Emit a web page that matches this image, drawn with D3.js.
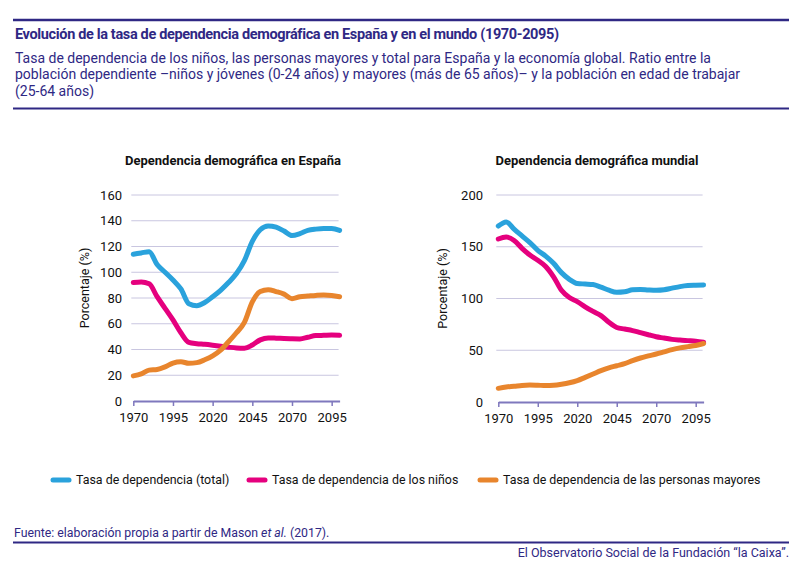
<!DOCTYPE html>
<html>
<head>
<meta charset="utf-8">
<script src="https://cdn.jsdelivr.net/npm/d3@7"></script>
<style>
  body { margin: 0; background: #fff; }
  svg { font-family: Roboto, "Liberation Sans", sans-serif; }
</style>
</head>
<body>
<script>
// Datos (cada 5 años, 1970-2100)
const years = d3.range(1970, 2101, 5);

const espanaTotal = [114, 115, 116, 106, 100, 94, 87, 75.5, 74, 76.5, 81, 86, 92, 99, 109, 124, 133, 136, 135, 132, 128.5, 130, 132.5, 133.5, 134, 134, 132.5];
const espanaNinos = [92, 92.5, 91, 81, 72, 63, 53, 45.5, 44.5, 44, 43.3, 42.5, 41.8, 41.2, 41, 43.5, 47.5, 49, 48.8, 48.5, 48.3, 48.2, 49.5, 50.8, 51, 51.2, 51];
const espanaMayores = [19.5, 21, 24, 24.5, 26.5, 29.5, 30.5, 29.3, 29.8, 32, 35, 39.5, 46, 53, 61, 77, 85, 86.5, 85, 83, 79.5, 81, 81.5, 82, 82.3, 82, 81];

const mundoTotal = [170, 174, 167, 160.5, 154, 146.5, 141, 134, 125, 118.5, 114.5, 114, 113.5, 111, 108, 106, 106.5, 108.5, 108.8, 108.3, 108, 108.5, 110, 111.5, 112.5, 112.8, 113];
const mundoNinos = [157.5, 159.5, 156, 148.5, 142, 137, 131, 121, 108, 101, 97, 92, 87.5, 83.5, 77, 72, 70.5, 69, 67, 65, 63, 61.8, 60.5, 59.8, 59.3, 58.8, 57.8];
const mundoMayores = [13.2, 14.5, 15.2, 16, 16.4, 16.2, 15.9, 16.2, 17.2, 18.6, 20.7, 23.8, 27, 30.3, 33, 35, 37, 40, 42.5, 44.5, 46.4, 48.5, 50.6, 52.3, 53.5, 54.6, 56.5];

const xTicks = [1970, 1995, 2020, 2045, 2070, 2095];
const espanaTicks = [0, 20, 40, 60, 80, 100, 120, 140, 160];
const mundoTicks = [0, 50, 100, 150, 200];

const seriesNames = ['Tasa de dependencia (total)', 'Tasa de dependencia de los niños', 'Tasa de dependencia de las personas mayores'];
const colors = ['#2aa2dc', '#e5007e', '#e8852d'];

const WIDTH = 800, HEIGHT = 567;
const ink = '#2f2884';

const svg = d3.select('body')
    .append('svg')
        .attr('width', WIDTH)
        .attr('height', HEIGHT);

// Cabecera
svg.append('line')
    .attr('x1', 13).attr('x2', 789).attr('y1', 20).attr('y2', 20)
    .attr('stroke', ink).attr('stroke-width', 2.5);

svg.append('text')
    .attr('x', 15).attr('y', 39)
    .attr('fill', ink)
    .style('font-size', '14.5px')
    .style('font-weight', 'bold')
    .style('letter-spacing', '-0.35px')
    .text('Evolución de la tasa de dependencia demográfica en España y en el mundo (1970-2095)');

const subtitle = [
    'Tasa de dependencia de los niños, las personas mayores y total para España y la economía global. Ratio entre la',
    'población dependiente –niños y jóvenes (0-24 años) y mayores (más de 65 años)– y la población en edad de trabajar',
    '(25-64 años)'
];

svg.append('g')
    .selectAll('text')
    .data(subtitle)
    .enter().append('text')
        .attr('x', 15)
        .attr('y', (d, i) => 63 + i * 16.3)
        .attr('fill', ink)
        .style('font-size', '14px')
        .text(d => d);

svg.append('line')
    .attr('x1', 13).attr('x2', 789).attr('y1', 108.5).attr('y2', 108.5)
    .attr('stroke', ink).attr('stroke-width', 2);

// Función que dibuja un panel
function drawPanel(opts) {
    const x = d3.scaleLinear().domain([1970, 2100]).range(opts.xRange);
    const y = d3.scaleLinear().domain([0, opts.yMax]).range(opts.yRange);

    const g = svg.append('g');

    g.append('text')
        .attr('x', opts.titleX).attr('y', 165)
        .attr('text-anchor', 'middle')
        .attr('fill', '#111')
        .style('font-size', '13px')
        .style('font-weight', 'bold')
        .text(opts.title);

    // Líneas de la grilla
    g.selectAll('.grid')
        .data(opts.ticks.filter(d => d > 0))
        .enter().append('line')
            .attr('class', 'grid')
            .attr('x1', opts.xRange[0] - 2)
            .attr('x2', opts.xRange[1] - 1)
            .attr('y1', d => y(d))
            .attr('y2', d => y(d))
            .attr('stroke', '#c9c6e0')
            .attr('stroke-width', 1);

    // Eje Y (solo etiquetas)
    const yAxis = g.append('g')
        .attr('transform', `translate(${opts.yLabelX},0)`)
        .call(d3.axisLeft(y).tickValues(opts.ticks).tickSize(0).tickPadding(0));
    yAxis.select('.domain').remove();
    yAxis.selectAll('text')
        .attr('fill', '#111')
        .style('font-size', '13px')
        .style('font-family', 'Roboto, "Liberation Sans", sans-serif');

    // Eje X
    const xAxis = g.append('g')
        .attr('transform', `translate(0,${opts.yRange[0]})`)
        .call(d3.axisBottom(x).tickValues(xTicks).tickFormat(d3.format('d')).tickSize(5).tickPadding(7).tickSizeOuter(0));
    xAxis.select('.domain')
        .attr('stroke', '#7f78bd')
        .attr('stroke-width', 2);
    xAxis.selectAll('.tick line')
        .attr('stroke', '#7f78bd')
        .attr('stroke-width', 1.5);
    xAxis.selectAll('text')
        .attr('fill', '#111')
        .style('font-size', '13px')
        .style('font-family', 'Roboto, "Liberation Sans", sans-serif');

    // Título del eje Y
    g.append('text')
        .attr('transform', `translate(${opts.yTitleX},${(opts.yRange[0] + opts.yRange[1]) / 2 - 10}) rotate(-90)`)
        .attr('text-anchor', 'middle')
        .attr('fill', '#111')
        .style('font-size', '12.5px')
        .text('Porcentaje (%)');

    const line = d3.line()
        .x((d, i) => x(years[i]))
        .y(d => y(d))
        .curve(d3.curveMonotoneX);

    g.selectAll('.serie')
        .data(opts.series)
        .enter().append('path')
            .attr('class', 'serie')
            .attr('d', d => line(d))
            .attr('fill', 'none')
            .attr('stroke', (d, i) => colors[i])
            .attr('stroke-width', 5)
            .attr('stroke-linecap', 'round')
            .attr('stroke-linejoin', 'round');
}

drawPanel({
    title: 'Dependencia demográfica en España',
    titleX: 233,
    xRange: [133.3, 339.6],
    yRange: [401, 195],
    yMax: 160,
    ticks: espanaTicks,
    yLabelX: 122,
    yTitleX: 89,
    series: [espanaTotal, espanaNinos, espanaMayores]
});

drawPanel({
    title: 'Dependencia demográfica mundial',
    titleX: 597,
    xRange: [498.3, 703.6],
    yRange: [402, 195],
    yMax: 200,
    ticks: mundoTicks,
    yLabelX: 483,
    yTitleX: 447,
    series: [mundoTotal, mundoNinos, mundoMayores]
});

// Leyenda
const legendX = [52, 248, 479];
const legend = svg.selectAll('.legend')
    .data(seriesNames)
    .enter().append('g')
        .attr('class', 'legend')
        .attr('transform', (d, i) => `translate(${legendX[i]},480)`);

legend.append('line')
    .attr('x1', 1).attr('x2', 17)
    .attr('stroke', (d, i) => colors[i])
    .attr('stroke-width', 5)
    .attr('stroke-linecap', 'round');

legend.append('text')
    .attr('x', 24)
    .attr('dy', '0.35em')
    .attr('fill', '#111')
    .style('font-size', '12.4px')
    .text(d => d);

// Pie
const fuente = svg.append('text')
    .attr('x', 14).attr('y', 537)
    .attr('fill', ink)
    .style('font-size', '12.3px');
fuente.append('tspan').text('Fuente: elaboración propia a partir de Mason ');
fuente.append('tspan').style('font-style', 'italic').text('et al.');
fuente.append('tspan').text(' (2017).');

svg.append('line')
    .attr('x1', 13).attr('x2', 789).attr('y1', 542.5).attr('y2', 542.5)
    .attr('stroke', ink).attr('stroke-width', 2);

svg.append('text')
    .attr('x', 789).attr('y', 557)
    .attr('text-anchor', 'end')
    .attr('fill', ink)
    .style('font-size', '12.5px')
    .text('El Observatorio Social de la Fundación “la Caixa”.');
</script>
</body>
</html>
